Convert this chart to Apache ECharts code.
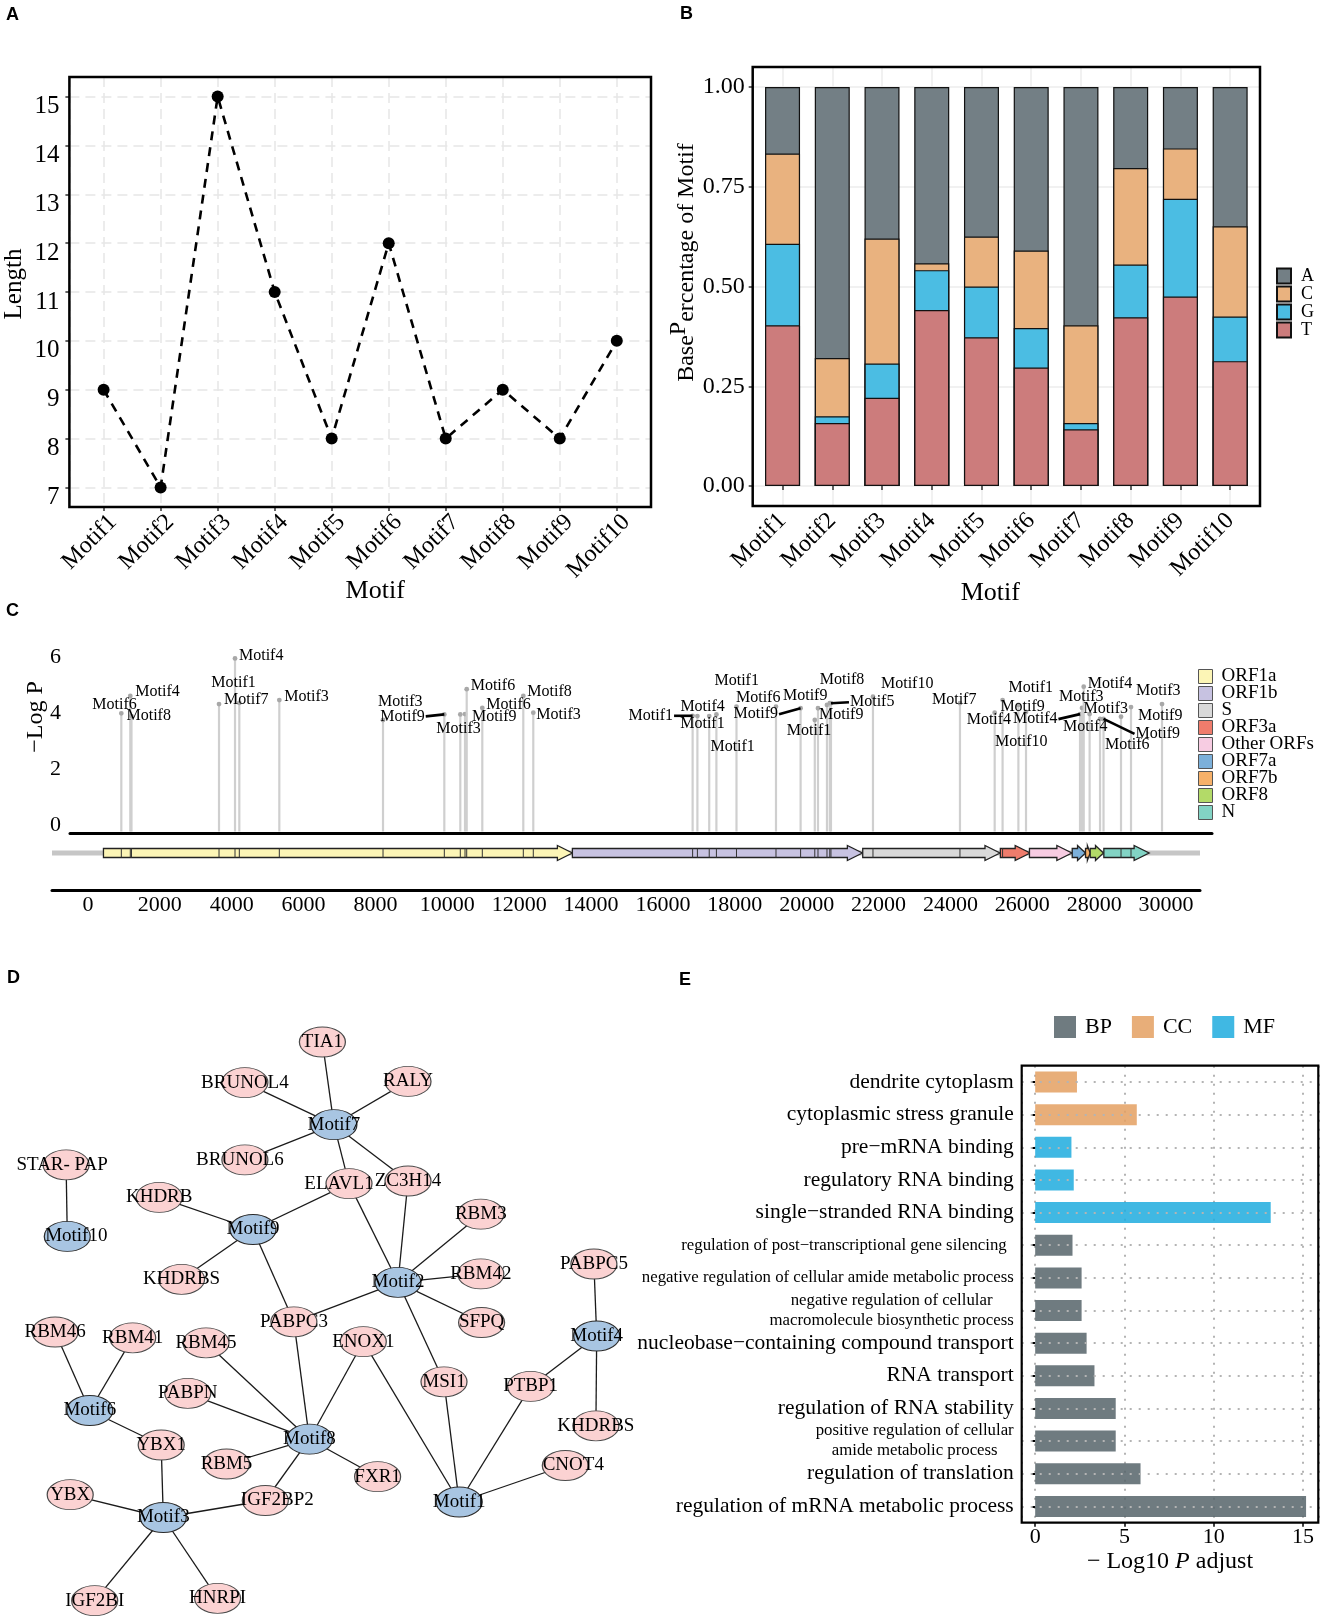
<!DOCTYPE html>
<html><head><meta charset="utf-8">
<script src="https://cdn.jsdelivr.net/npm/echarts@6/dist/echarts.min.js"></script>
<style>html,body{margin:0;padding:0;background:#fff}#c{width:1325px;height:1622px}</style>
</head><body><div id="c"></div>
<script>
// ================= DATA =================
// Panel A
const motifs = ['Motif1','Motif2','Motif3','Motif4','Motif5','Motif6','Motif7','Motif8','Motif9','Motif10'];
const motifLength = [9, 7, 15, 11, 8, 12, 8, 9, 8, 10];
// Panel B (base fractions)
const baseT = [0.403, 0.158, 0.221, 0.441, 0.373, 0.297, 0.142, 0.423, 0.475, 0.313];
const baseG = [0.204, 0.017, 0.086, 0.100, 0.127, 0.099, 0.016, 0.132, 0.245, 0.112];
const baseC = [0.226, 0.146, 0.313, 0.017, 0.125, 0.194, 0.245, 0.242, 0.126, 0.226];
const baseA = [0.167, 0.679, 0.380, 0.442, 0.375, 0.410, 0.597, 0.203, 0.154, 0.349];
// Panel C (motif hits on genome)
const stemPos = [927,1177,1210,3646,4091,4211,5324,8210,9916,10361,10492,10539,10973,12114,12392,16826,16959,17288,17488,18047,19146,19831,20226,20315,20565,20643,20676,21845,24266,25232,25452,25892,26104,27607,27663,27710,27874,28164,28261,28748,29026,29889];
const stemLogP = [3.99,4.61,3.89,4.32,5.95,4.36,4.46,3.75,3.95,3.95,3.96,4.85,4.18,4.61,4.01,3.90,3.89,3.89,3.95,4.23,4.23,4.17,3.75,4.17,4.29,4.35,4.35,4.58,4.35,4.01,4.46,4.29,4.04,3.96,4.18,4.94,3.96,3.79,3.79,3.87,4.21,4.32];
const stemMotif = ['Motif6','Motif4','Motif8','Motif7','Motif4','Motif1','Motif3','Motif3','Motif9','Motif3','Motif9','Motif6','Motif6','Motif8','Motif3','Motif1','Motif4','Motif1','Motif1','Motif1','Motif6','Motif9','Motif1','Motif9','Motif9','Motif8','Motif5','Motif10','Motif7','Motif4','Motif1','Motif9','Motif10','Motif4','Motif3','Motif4','Motif3','Motif4','Motif9','Motif6','Motif9','Motif3'];
const geneTypes = ['ORF1a','ORF1b','S','ORF3a','Other ORFs','ORF7a','ORF7b','ORF8','N'];
const geneType  = ['ORF1a','ORF1b','S','ORF3a','Other ORFs','ORF7a','ORF7b','ORF8','N'];
const geneStart = [430, 13480, 21560, 25390, 26200, 27390, 27760, 27890, 28270];
const geneEnd   = [13480, 21550, 25380, 26220, 27380, 27760, 27890, 28260, 29530];
// Panel D (network)
const nodeIds    = ['TIA1','BRUNOL4','RALY','Motif7','BRUNOL6','STAR-PAP','ELAVL1','ZC3H14','KHDRB','Motif10','Motif9','RBM3','KHDRBS_1','Motif2','RBM42','PABPC5','PABPC3','SFPQ','RBM46','RBM41','RBM45','ENOX1','Motif4','MSI1','PTBP1','PABPN','Motif6','KHDRBS_2','Motif8','YBX1','RBM5','FXR1','CNOT4','IGF2BP2','Motif1','YBX','Motif3','IGF2BI','HNRPI'];
const nodeLabels = ['TIA1','BRUNOL4','RALY','Motif7','BRUNOL6','STAR- PAP','ELAVL1','ZC3H14','KHDRB','Motif10','Motif9','RBM3','KHDRBS','Motif2','RBM42','PABPC5','PABPC3','SFPQ','RBM46','RBM41','RBM45','ENOX1','Motif4','MSI1','PTBP1','PABPN','Motif6','KHDRBS','Motif8','YBX1','RBM5','FXR1','CNOT4','IGF2BP2','Motif1','YBX','Motif3','IGF2BI','HNRPI'];
const edges = [['Motif7','TIA1'],['Motif7','BRUNOL4'],['Motif7','RALY'],['Motif7','BRUNOL6'],['Motif7','ELAVL1'],['Motif7','ZC3H14'],
 ['Motif10','STAR-PAP'],
 ['Motif9','KHDRB'],['Motif9','ELAVL1'],['Motif9','KHDRBS_1'],['Motif9','PABPC3'],
 ['Motif2','ELAVL1'],['Motif2','ZC3H14'],['Motif2','RBM3'],['Motif2','RBM42'],['Motif2','SFPQ'],['Motif2','PABPC3'],['Motif2','MSI1'],
 ['Motif4','PABPC5'],['Motif4','PTBP1'],['Motif4','KHDRBS_2'],
 ['Motif6','RBM46'],['Motif6','RBM41'],['Motif6','YBX1'],
 ['Motif8','PABPC3'],['Motif8','RBM45'],['Motif8','ENOX1'],['Motif8','PABPN'],['Motif8','RBM5'],['Motif8','FXR1'],['Motif8','IGF2BP2'],
 ['Motif1','ENOX1'],['Motif1','MSI1'],['Motif1','PTBP1'],['Motif1','CNOT4'],
 ['Motif3','YBX1'],['Motif3','YBX'],['Motif3','IGF2BP2'],['Motif3','IGF2BI'],['Motif3','HNRPI']];
// Panel E (GO enrichment)
const goTerms = ['dendrite cytoplasm','cytoplasmic stress granule','pre\u2212mRNA binding','regulatory RNA binding','single\u2212stranded RNA binding','regulation of post\u2212transcriptional gene silencing','negative regulation of cellular amide metabolic process','negative regulation of cellular\nmacromolecule biosynthetic process','nucleobase\u2212containing compound transport','RNA transport','regulation of RNA stability','positive regulation of cellular\namide metabolic process','regulation of translation','regulation of mRNA metabolic process'];
const goValues = [2.34, 5.69, 2.03, 2.16, 13.19, 2.09, 2.60, 2.60, 2.88, 3.32, 4.51, 4.51, 5.90, 15.17];
const goGroup  = ['CC','CC','MF','MF','MF','BP','BP','BP','BP','BP','BP','BP','BP','BP'];

// ================= LAYOUT / STYLE (not data) =================
const stemLabelOffset = [[-29,-8],[5,-4],[-5,0],[5,-4],[4,-3],[-28,-20],[5,-3],[-5,-18],[-64,2],[-24,14],[7,3],[4,-3],[4,-3],[4,-4],[3,2],[-64,0],[-17,-9],[-29,8],[-6,32],[-22,-26],[-40,-9],[-67,6],[-28,11],[1,7],[-44,-9],[-10,-23],[19,-1],[8,-13],[-28,-3],[-28,7],[6,-12],[-18,2],[-31,30],[-67,5],[-23,-11],[4,-3],[-6,-5],[-37,8],[32,15],[-16,28],[7,9],[-26,-13]];
const stemLeader = [8, 15, 21, 26, 33, 38];
const nodeXY = [[322.4,1042],[244.9,1082.6],[408,1081.4],[333.9,1124.7],[244.9,1159.9],[66.1,1164.8],[349,1183.6],[408,1181],[159.2,1197.4],[67.3,1236.4],[253,1229.5],[480.8,1214.2],[181.6,1279.3],[398,1282.3],[480.8,1273.9],[593.9,1264],[293.9,1321.8],[481.6,1322.5],[55.1,1332],[132.7,1337.8],[206,1342.8],[363.3,1341.7],[596.7,1336],[444,1381.8],[530.6,1386.4],[187.8,1393.3],[89.8,1410.5],[595.9,1425.8],[309.4,1439.2],[161.2,1445],[226.5,1464],[377.6,1476.7],[565.3,1465.5],[265.3,1500.5],[459.2,1502],[70.2,1494.7],[163.3,1517.5],[94.7,1600.7],[217.6,1598.3]];
const nodeLabelDx = {'ELAVL1':-10,'Motif10':9,'STAR-PAP':-4,'IGF2BP2':12,'CNOT4':8,'BRUNOL6':-5};
const geneColors = {'ORF1a':'#fcf5b6','ORF1b':'#c7c2e1','S':'#d9d9d9','ORF3a':'#ef7c6c','Other ORFs':'#f7cce2','ORF7a':'#7cb0da','ORF7b':'#f7b169','ORF8':'#b3da68','N':'#82d3c4'};
const baseColors = {A:'#737f85', C:'#e9b27f', G:'#4bbde3', T:'#cc7c7c'};
const goColors = {BP:'#56646a', CC:'#e4a062', MF:'#1eacde'};
const gridA = {left:69.4, top:77, width:581.6, height:430};
const gridB = {left:752.7, top:67, width:507.3, height:439};
const gridE = {left:1021.7, top:1065.7, width:296.6, height:457};

const SERIF = 'Liberation Serif';
const C_YMIN = -0.2857, GENE_Y = 37;

const mctx = document.createElement('canvas').getContext('2d');
mctx.font = '16px "Liberation Serif"';
const measure = t => mctx.measureText(t).width;
const isInt = v => Math.abs(v - Math.round(v)) < 1e-6;

function renderStem(params, api) {
  const top = api.coord([api.value(0), api.value(1)]);
  const base = api.coord([api.value(0), C_YMIN]);
  return {type:'group', children:[
    {type:'line', shape:{x1:top[0], y1:base[1]-1.5, x2:top[0], y2:top[1]}, style:{stroke:'#cfcfcf', lineWidth:2.2}},
    {type:'circle', shape:{cx:top[0], cy:top[1], r:2.4}, style:{fill:'#a8a8a8'}}
  ]};
}
function renderStemLabel(params, api) {
  const i = api.value(2);
  const p = api.coord([api.value(0), api.value(1)]);
  const name = stemMotif[i];
  const dx = stemLabelOffset[i][0], dy = stemLabelOffset[i][1];
  const lx = p[0] + dx, ly = p[1] + dy;
  const children = [{type:'text', x:lx, y:ly, style:{text:name, fontFamily:SERIF, fontSize:16, fill:'#000', align:'left', verticalAlign:'middle'}}];
  if (stemLeader.indexOf(i) >= 0) {
    const w = measure(name);
    const x1 = dx < 0 ? lx + w + 1 : lx - 1;
    children.push({type:'line', shape:{x1:x1, y1:ly, x2:p[0], y2:p[1]}, style:{stroke:'#000', lineWidth:2.6}});
  }
  return {type:'group', children};
}
function renderGene(params, api) {
  const s = api.coord([api.value(0), GENE_Y]);
  const e = api.coord([api.value(1), GENE_Y]);
  const cy = s[1], len = e[0] - s[0];
  const head = Math.min(15, len * 0.6), bh = 4.5, hh = 7.5;
  const hx = e[0] - head;
  return {type:'polygon', shape:{points:[[s[0],cy-bh],[hx,cy-bh],[hx,cy-hh],[e[0],cy],[hx,cy+hh],[hx,cy+bh],[s[0],cy+bh]]},
    style:{fill: api.visual('color'), stroke:'#222', lineWidth:1.3}};
}
function renderGeneMark(params, api) {
  const pos = api.value(0);
  let inside = false;
  for (let k = 0; k < geneStart.length; k++) if (pos >= geneStart[k] && pos <= geneEnd[k] - 400) inside = true;
  if (!inside) return null;
  const c = api.coord([pos, GENE_Y]);
  return {type:'line', shape:{x1:c[0], y1:c[1]-4.5, x2:c[0], y2:c[1]+4.5}, style:{stroke:'#333', lineWidth:1}};
}
function renderBackbone(params, api) {
  const cs = params.coordSys;
  const y = api.coord([0, GENE_Y])[1];
  return {type:'line', shape:{x1:cs.x, y1:y, x2:cs.x+cs.width, y2:y}, style:{stroke:'#c6c6c6', lineWidth:5}};
}

// ---- network bounding box
const xs = nodeXY.map(p => p[0]), ys = nodeXY.map(p => p[1]);
const minX = Math.min(...xs), maxX = Math.max(...xs), minY = Math.min(...ys), maxY = Math.max(...ys);

const tickLabel = (size, extra) => Object.assign({fontFamily:SERIF, fontSize:size, color:'#000'}, extra || {});
const dashedGrid = {show:true, lineStyle:{color:'#e6e6e6', width:1.5, type:[10,6]}};
const frame = (g, w) => ({type:'rect', z:100, silent:true, shape:{x:g.left, y:g.top, width:g.width, height:g.height},
  style:{fill:'none', stroke:'#000', lineWidth:w}});

const series = [];
// A
series.push({type:'line', xAxisIndex:0, yAxisIndex:0, data: motifLength.map((v,i)=>[i+1, v]),
  lineStyle:{color:'#000', width:2.6, type:[9,7]}, symbol:'circle', symbolSize:12, itemStyle:{color:'#000'}, silent:true});
// B : stacked composition drawn as overlapping cumulative bars (A on top of stack)
const cumT = baseT.map((v,i)=> v);
const cumG = baseT.map((v,i)=> v + baseG[i]);
const cumC = baseT.map((v,i)=> v + baseG[i] + baseC[i]);
const cumA = baseT.map((v,i)=> v + baseG[i] + baseC[i] + baseA[i]);
[['A',cumA],['C',cumC],['G',cumG],['T',cumT]].forEach(([n, arr], k) => {
  series.push({type:'bar', name:n, xAxisIndex:1, yAxisIndex:1, barWidth:35, barGap:'-100%', z:2+k,
    data: arr.map((v,i)=>[i+1, v]), itemStyle:{color:baseColors[n], borderColor:'#111', borderWidth:1.2}, silent:true});
});
// C
series.push({type:'custom', name:'stems', xAxisIndex:2, yAxisIndex:2, clip:false, silent:true, z:3,
  data: stemPos.map((p,i)=>[p, stemLogP[i], i]), renderItem: renderStem});
series.push({type:'custom', name:'stemLabels', xAxisIndex:2, yAxisIndex:2, clip:false, silent:true, z:6,
  data: stemPos.map((p,i)=>[p, stemLogP[i], i]), renderItem: renderStemLabel});
series.push({type:'custom', name:'backbone', xAxisIndex:3, yAxisIndex:3, clip:false, silent:true, z:1,
  data: [[0]], renderItem: renderBackbone});
geneTypes.forEach(t => {
  const d = [];
  geneType.forEach((g,k) => { if (g === t) d.push([geneStart[k], geneEnd[k]]); });
  series.push({type:'custom', name:t, xAxisIndex:3, yAxisIndex:3, clip:false, silent:true, z:2,
    itemStyle:{color:geneColors[t], borderColor:'#333', borderWidth:1}, data:d, renderItem: renderGene});
});
series.push({type:'custom', name:'geneMarks', xAxisIndex:3, yAxisIndex:3, clip:false, silent:true, z:4,
  data: stemPos.map(p=>[p]), renderItem: renderGeneMark});
// D
series.push({type:'graph', layout:'none', left:minX, top:minY, width:maxX-minX, height:maxY-minY, roam:false, silent:true,
  symbol:'circle', symbolSize:[46,30],
  label:{show:true, position:'inside', fontFamily:SERIF, fontSize:19, color:'#000'},
  lineStyle:{color:'#1a1a1a', width:1.3, opacity:1, curveness:0},
  emphasis:{disabled:true},
  data: nodeIds.map((id,i) => {
    const motif = id.indexOf('Motif') === 0;
    return {name:id, x:nodeXY[i][0], y:nodeXY[i][1],
      label:{formatter: nodeLabels[i], offset:[nodeLabelDx[id] || 0, 0]},
      itemStyle: motif ? {color:'#a8c5e2', borderColor:'#2a2a2a', borderWidth:1} : {color:'#fbd2d2', borderColor:'#4a4a4a', borderWidth:1}};
  }),
  links: edges.map(e => ({source:e[0], target:e[1]}))
});
// E
['BP','CC','MF'].forEach((g, gi) => {
  const s = {type:'bar', name:g, xAxisIndex:4, yAxisIndex:4, stack:'go', barWidth:21,
    data: goValues.map((v,i)=> goGroup[i] === g ? v : '-'),
    itemStyle:{color:goColors[g], opacity:0.85}, silent:true};
  if (gi === 0) {
    s.markLine = {silent:true, symbol:'none', label:{show:false}, animation:false,
      lineStyle:{type:[2,7], color:'#b4b4b4', width:2},
      data: goTerms.map(t => ({yAxis:t}))};
  }
  series.push(s);
});

const smallIdx = new Set([5,6,7,11]);
const rotLabel = (va, lh, margin) => tickLabel(24, {rotate:45, margin:margin, verticalAlign:va, lineHeight:lh, showMinLabel:false, showMaxLabel:false,
  formatter: v => (isInt(v) && v >= 1 && v <= 10) ? motifs[Math.round(v)-1] : ''});

const option = {
  animation:false,
  backgroundColor:'#fff',
  graphic:[
    {type:'text', left:6, top:6, style:{text:'A', font:'bold 18px "Liberation Sans"', fill:'#000'}},
    {type:'text', left:680, top:5, style:{text:'B', font:'bold 18px "Liberation Sans"', fill:'#000'}},
    {type:'text', left:6, top:602, style:{text:'C', font:'bold 18px "Liberation Sans"', fill:'#000'}},
    {type:'text', left:7, top:969, style:{text:'D', font:'bold 18px "Liberation Sans"', fill:'#000'}},
    {type:'text', left:679, top:971, style:{text:'E', font:'bold 18px "Liberation Sans"', fill:'#000'}},
    frame(gridA, 2.5), frame(gridB, 2.5), frame(gridE, 2.2)
  ],
  grid:[
    gridA,
    gridB,
    {left:70, top:601, width:1142, height:232},
    {left:52, top:838, width:1148, height:52},
    gridE
  ],
  legend:[
    {data:['A','C','G','T'], orient:'vertical', left:1276, top:267, padding:0, itemWidth:14, itemHeight:15, itemGap:0, icon:'rect', selectedMode:false,
      textStyle:tickLabel(18, {lineHeight:15, padding:[0,0,0,5]})},
    {data:geneTypes, orient:'vertical', left:1198, top:667, padding:0, itemWidth:14, itemHeight:14, itemGap:-2, icon:'rect', selectedMode:false,
      itemStyle:{borderColor:'#555', borderWidth:1}, textStyle:tickLabel(19, {lineHeight:17, padding:[0,0,0,4]})},
    {data:['BP','CC','MF'], orient:'horizontal', left:1054, top:1016, padding:0, itemWidth:22, itemHeight:22, itemGap:20, icon:'rect', selectedMode:false,
      itemStyle:{borderWidth:0}, textStyle:tickLabel(22, {padding:[0,0,0,4]})}
  ],
  xAxis:[
    {gridIndex:0, type:'value', min:0.4, max:10.6, minInterval:1, maxInterval:1,
      axisLine:{show:false}, axisTick:{show:true, length:4, lineStyle:{color:'#333', width:1.5}},
      axisLabel:rotLabel('top', 27, 2), splitLine:dashedGrid,
      name:'Motif', nameLocation:'middle', nameGap:71, nameMoveOverlap:false, nameTextStyle:tickLabel(26, {padding:[0,0,0,30]})},
    {gridIndex:1, type:'value', min:0.4, max:10.6, minInterval:1, maxInterval:1,
      axisLine:{show:false}, axisTick:{show:true, length:4, lineStyle:{color:'#333', width:1.5}},
      axisLabel:rotLabel('middle', 27, 11), splitLine:{show:true, lineStyle:{color:'#ececec', width:1.5}},
      name:'Motif', nameLocation:'middle', nameGap:74, nameMoveOverlap:false, nameTextStyle:tickLabel(26, {padding:[0,32,0,0]})},
    {gridIndex:2, type:'value', min:-500.9, max:31280,
      axisLine:{show:true, onZero:false, lineStyle:{color:'#000', width:3}}, axisTick:{show:false}, axisLabel:{show:false}, splitLine:{show:false}},
    {gridIndex:3, type:'value', min:-1002, max:30946, minInterval:2000, maxInterval:2000,
      axisLine:{show:true, onZero:false, lineStyle:{color:'#000', width:3}}, axisTick:{show:false}, splitLine:{show:false},
      axisLabel:tickLabel(22, {margin:4, showMinLabel:false, showMaxLabel:false,
        formatter: v => (v >= 0 && v <= 30000 && v % 2000 === 0) ? String(v) : ''})},
    {gridIndex:4, type:'value', min:-0.755, max:15.855, minInterval:5, maxInterval:5,
      axisLine:{show:false}, axisTick:{show:true, length:4, lineStyle:{color:'#000', width:1.5}},
      axisLabel:tickLabel(22, {margin:4, showMinLabel:false, showMaxLabel:false,
        formatter: v => (v >= 0 && v <= 15 && v % 5 === 0) ? String(v) : ''}),
      splitLine:{show:true, lineStyle:{type:[2,7], color:'#b4b4b4', width:2}},
      name:'{n|\u2212 Log10 }{i|P}{n| adjust}', nameLocation:'middle', nameGap:27,
      nameTextStyle:{rich:{n:tickLabel(24), i:tickLabel(24, {fontStyle:'italic'})}}}
  ],
  yAxis:[
    {gridIndex:0, type:'value', min:6.6, max:15.4, minInterval:1, maxInterval:1,
      axisLine:{show:false}, axisTick:{show:true, length:4, lineStyle:{color:'#333', width:1.5}},
      axisLabel:tickLabel(25, {margin:10, verticalAlign:'top', lineHeight:20, showMinLabel:false, showMaxLabel:false,
        formatter: v => isInt(v) ? String(Math.round(v)) : ''}),
      splitLine:dashedGrid,
      name:'Length', nameLocation:'middle', nameGap:42, nameRotate:90, nameTextStyle:tickLabel(25, {padding:[0,0,0,16]})},
    {gridIndex:1, type:'value', min:-0.05, max:1.05, minInterval:0.25, maxInterval:0.25,
      axisLine:{show:false}, axisTick:{show:true, length:4, lineStyle:{color:'#333', width:1.5}},
      axisLabel:tickLabel(24, {margin:8, showMinLabel:false, showMaxLabel:false,
        formatter: v => (v >= -1e-9 && v <= 1 + 1e-9) ? v.toFixed(2) : ''}),
      splitLine:{show:true, lineStyle:{color:'#ececec', width:1.5}},
      name:'{n|Base}{p|P}{n|ercentage of Motif}', nameLocation:'middle', nameGap:44, nameRotate:90,
      nameTextStyle:{padding:[0,0,0,48], rich:{n:tickLabel(24), p:tickLabel(24, {padding:[0,0,16,0]})}}},
    {gridIndex:2, type:'value', min:C_YMIN, max:8, minInterval:2, maxInterval:2,
      axisLine:{show:false}, axisTick:{show:false}, splitLine:{show:false},
      axisLabel:tickLabel(22, {margin:9, showMinLabel:false, showMaxLabel:false,
        formatter: v => (v >= 0 && v <= 6 && v % 2 === 0) ? String(v) : ''}),
      name:'\u2212Log P', nameLocation:'middle', nameGap:22, nameMoveOverlap:false, nameRotate:90, nameTextStyle:tickLabel(24)},
    {gridIndex:3, type:'value', min:0, max:52, show:false},
    {gridIndex:4, type:'category', data:goTerms, inverse:true,
      axisLine:{show:false}, axisTick:{show:true, length:4, alignWithLabel:true, lineStyle:{color:'#000', width:2}},
      splitLine:{show:false},
      axisLabel:{interval:0, margin:8, color:'#000',
        formatter:(val, idx) => {
          const lines = val.split('\n');
          if (lines.length > 1) return lines.map(l => '{c|' + l + '}').join('\n');
          if (idx === 5) return '{sp|' + val + '}';
          return smallIdx.has(idx) ? '{s|' + val + '}' : '{b|' + val + '}';
        },
        rich:{
          b:tickLabel(21.5),
          s:tickLabel(16.8),
          sp:tickLabel(16.8, {padding:[0,7,0,0]}),
          c:tickLabel(16.8, {align:'center', lineHeight:20})
        }}}
  ],
  series: series
};

const chart = echarts.init(document.getElementById('c'), null, {renderer:'canvas', width:1325, height:1622});
chart.setOption(option);
</script>
</body></html>
